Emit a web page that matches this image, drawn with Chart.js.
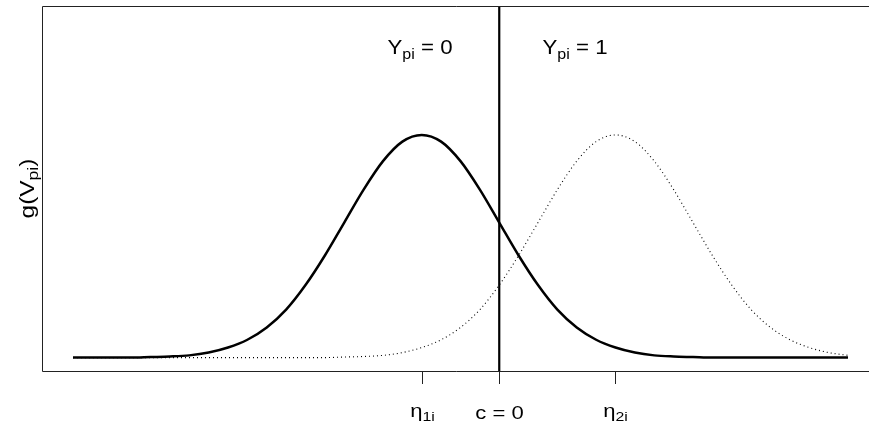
<!DOCTYPE html>
<html>
<head>
<meta charset="utf-8">
<script src="https://cdn.jsdelivr.net/npm/chart.js@4"></script>
<style>
  html, body { margin: 0; padding: 0; background: #fff; }
  #wrap { width: 869px; height: 423px; }
</style>
</head>
<body>
<div id="wrap"><canvas id="grafico"></canvas></div>
<script>
const xs = [-5.5, -5.25, -5, -4.75, -4.5, -4.25, -4, -3.75, -3.5, -3.25, -3, -2.75, -2.5, -2.25,
  -2, -1.75, -1.5, -1.25, -1, -0.75, -0.5, -0.25, 0, 0.25, 0.5, 0.75, 1, 1.25, 1.5, 1.75,
  2, 2.25, 2.5, 2.75, 3, 3.25, 3.5, 3.75, 4, 4.25, 4.5];
const grupo0 = [0, 0, 0, 0, 0.001, 0.002, 0.004, 0.009, 0.018, 0.032, 0.054, 0.086, 0.130, 0.183,
  0.242, 0.301, 0.352, 0.387, 0.399, 0.387, 0.352, 0.301, 0.242, 0.183, 0.130, 0.086, 0.054, 0.032,
  0.018, 0.009, 0.004, 0.002, 0.001, 0, 0, 0, 0, 0, 0, 0, 0];
const grupo1 = [0, 0, 0, 0, 0, 0, 0, 0, 0, 0, 0, 0, 0, 0,
  0.001, 0.002, 0.004, 0.009, 0.018, 0.032, 0.054, 0.086, 0.130, 0.183, 0.242, 0.301, 0.352, 0.387,
  0.399, 0.387, 0.352, 0.301, 0.242, 0.183, 0.130, 0.086, 0.054, 0.032, 0.018, 0.009, 0.004];

// posições marcadas no eixo x
const eta1 = -1;
const corte = 0;
const eta2 = 1.5;
const ticksX = [eta1, corte, eta2];
const rotulosX = [
  [["η", 0], ["1i", 1]],
  [["c = 0", 0]],
  [["η", 0], ["2i", 1]]
];

const FONTE = '"Liberation Sans", Arial, Helvetica, sans-serif';

function pontos(ys) {
  return xs.map((x, i) => ({ x: x, y: ys[i] }));
}

// escreve texto com partes em subscrito, centrado em cx (k = esticamento horizontal)
function textoSub(ctx, partes, cx, base, tam, k) {
  const sub = tam * 0.72;
  let largura = 0;
  partes.forEach(([t, s]) => {
    ctx.font = (s ? sub : tam) + "px " + FONTE;
    largura += ctx.measureText(t).width;
  });
  ctx.save();
  ctx.translate(cx, base);
  ctx.scale(k || 1, 1);
  let x = -largura / 2;
  ctx.textAlign = "left";
  ctx.textBaseline = "alphabetic";
  partes.forEach(([t, s]) => {
    ctx.font = (s ? sub : tam) + "px " + FONTE;
    ctx.fillText(t, x, s ? tam * 0.22 : 0);
    x += ctx.measureText(t).width;
  });
  ctx.restore();
}

const moldura = {
  id: "moldura",
  afterDraw(chart) {
    const ctx = chart.ctx;
    const a = chart.chartArea;
    const sx = chart.scales.x;
    ctx.save();
    ctx.strokeStyle = "#222";
    ctx.lineWidth = 1;
    ctx.beginPath();
    ctx.moveTo(a.right + 2, Math.round(a.top) + 0.5);
    ctx.lineTo(Math.round(a.left) + 0.5, Math.round(a.top) + 0.5);
    ctx.lineTo(Math.round(a.left) + 0.5, Math.round(a.bottom) + 0.5);
    ctx.lineTo(a.right + 2, Math.round(a.bottom) + 0.5);
    ctx.stroke();

    // marcas e rótulos do eixo x
    ctx.fillStyle = "#000";
    ticksX.forEach((v, i) => {
      const px = Math.round(sx.getPixelForValue(v)) + 0.5;
      ctx.beginPath();
      ctx.moveTo(px, a.bottom);
      ctx.lineTo(px, a.bottom + 13);
      ctx.stroke();
      textoSub(ctx, rotulosX[i], px, i === 1 ? 419 : 417, 19, 1.16);
    });

    // regiões acima do corte
    textoSub(ctx, [["Y", 0], ["pi", 1], [" = 0", 0]], 420, 54, 21, 1.06);
    textoSub(ctx, [["Y", 0], ["pi", 1], [" = 1", 0]], 575, 54, 21, 1.06);

    // título do eixo y
    ctx.translate(34, (a.top + a.bottom) / 2);
    ctx.rotate(-Math.PI / 2);
    textoSub(ctx, [["g(V", 0], ["pi", 1], [")", 0]], 0, 0, 20, 1.22);
    ctx.restore();
  }
};

new Chart(document.getElementById("grafico"), {
  type: "line",
  data: {
    datasets: [
      {
        data: pontos(grupo1),
        borderColor: "#000",
        borderWidth: 1.1,
        borderDash: [1, 3],
        pointRadius: 0,
        cubicInterpolationMode: "monotone"
      },
      {
        data: pontos(grupo0),
        borderColor: "#000",
        borderWidth: 2.5,
        pointRadius: 0,
        cubicInterpolationMode: "monotone"
      },
      {
        data: [{ x: corte, y: -0.024 }, { x: corte, y: 0.63 }],
        borderColor: "#000",
        borderWidth: 2.2,
        pointRadius: 0
      }
    ]
  },
  options: {
    responsive: true,
    maintainAspectRatio: false,
    animation: false,
    layout: { padding: { left: 42, top: 6, right: 0, bottom: 52 } },
    plugins: { legend: { display: false }, tooltip: { enabled: false } },
    scales: {
      x: { type: "linear", min: -5.9, max: 4.771, display: false },
      y: { min: -0.024, max: 0.63, display: false }
    }
  },
  plugins: [moldura]
});
</script>
</body>
</html>
